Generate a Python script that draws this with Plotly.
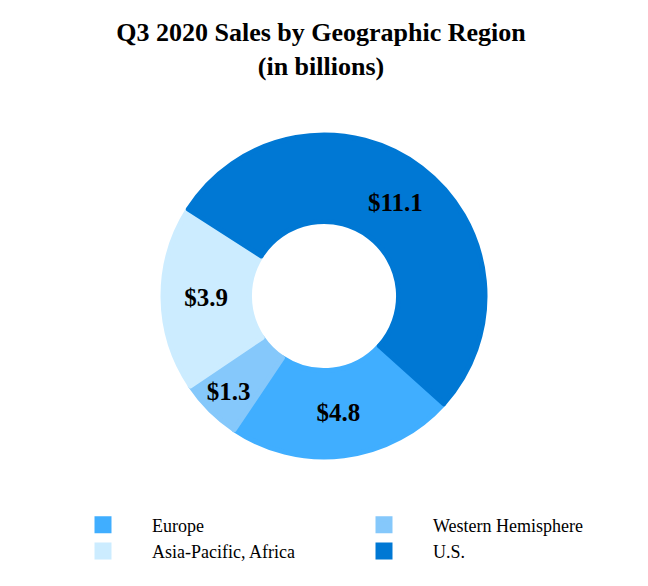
import plotly.graph_objects as go

regions = ["Europe", "Western Hemisphere", "Asia-Pacific, Africa", "U.S."]
sales = [4.8, 1.3, 3.9, 11.1]
text_labels = ["$4.8", "$1.3", "$3.9", "$11.1"]
colors = ["#40AEFF", "#85C8FB", "#CCECFF", "#0078D4"]

W, H = 648, 586

fig = go.Figure(go.Pie(
    labels=regions,
    values=sales,
    text=text_labels,
    textinfo="text",
    textposition="inside",
    textfont=dict(family="Liberation Serif", size=25, color="black", weight="bold"),
    marker=dict(colors=colors, line=dict(width=5, color=colors)),
    hole=0.463,
    sort=False,
    direction="clockwise",
    rotation=132,
    domain=dict(x=[155 / W, 477 / W], y=[1 - 449 / H, 1 - 127 / H]),
    hoverinfo="label+value",
))

fig.update_layout(
    width=W, height=H,
    margin=dict(l=0, r=0, t=0, b=0),
    paper_bgcolor="white",
    plot_bgcolor="white",
    font=dict(family="Liberation Serif", color="black"),
    title=dict(
        text="<b>Q3 2020 Sales by Geographic Region<br>(in billions)</b>",
        x=313 / W, xanchor="center", y=1 - 33 / H, yanchor="top",
        font=dict(family="Liberation Serif", size=26, color="black"),
    ),
    legend=dict(
        orientation="h",
        x=46 / W, xanchor="left",
        y=1 - 498.5 / H, yanchor="top",
        entrywidth=178, entrywidthmode="pixels",
        itemwidth=88,
        font=dict(family="Liberation Serif", size=18, color="black"),
        traceorder="normal",
        tracegroupgap=0,
        itemclick=False,
    ),
    showlegend=True,
)

fig.write_html("out.html")
